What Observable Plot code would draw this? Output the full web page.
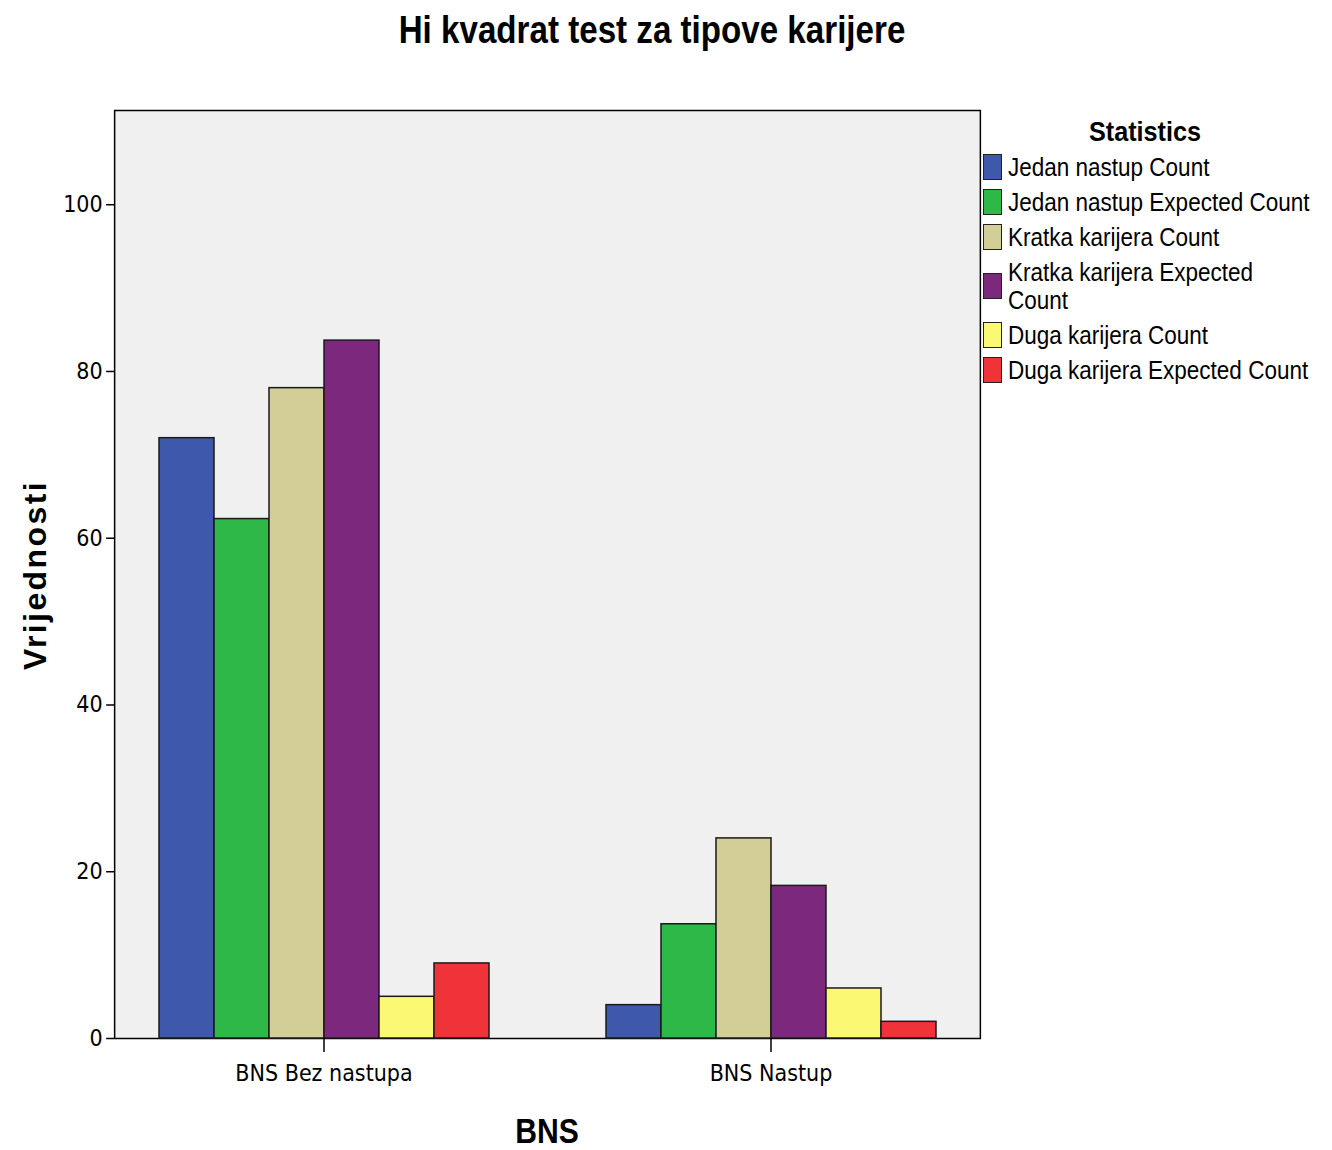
<!DOCTYPE html>
<html>
<head>
<meta charset="utf-8">
<script src="https://cdn.jsdelivr.net/npm/d3@7"></script>
<script src="https://cdn.jsdelivr.net/npm/@observablehq/plot@0.6"></script>
<style>
  body { margin: 0; background: #fff; font-family: "Liberation Sans", Arial, sans-serif; color: #000; }
  #wrap { position: relative; width: 1332px; height: 1150px; overflow: hidden; }
  #title { position: absolute; left: 652px; top: 30px; transform: translate(-50%, -50%) scaleX(0.85); font-size: 39px; line-height: 44px; font-weight: bold; white-space: nowrap; }
  #chart { position: absolute; left: 0; top: 62px; }
  #ylabel { position: absolute; left: 35px; top: 575px; transform: translate(-50%, -50%) rotate(-90deg); font-weight: bold; font-size: 32px; letter-spacing: 2.4px; white-space: nowrap; }
  #xlabel { position: absolute; left: 547px; top: 1131px; transform: translate(-50%, -50%) scaleX(0.86); font-weight: bold; font-size: 35px; line-height: 34px; white-space: nowrap; }
  #legend { position: absolute; left: 983px; top: 116px; width: 348px; }
  #legend .lt { position: absolute; left: 162px; top: 16px; transform: translate(-50%, -50%) scaleX(0.9); font-weight: bold; font-size: 28px; line-height: 32px; white-space: nowrap; }
  #legend .rows { position: absolute; left: 0; top: 37px; }
  #legend .row { display: flex; align-items: center; margin-bottom: 7px; }
  #legend .sw { width: 17px; height: 24px; border: 1.5px solid #222; flex: none; margin-right: 6px; }
  #legend .tx { font-size: 25px; line-height: 28px; width: 340px; transform: scaleX(0.9); transform-origin: left center; }
</style>
</head>
<body>
<div id="wrap">
  <div id="title"></div>
  <div id="chart"></div>
  <div id="ylabel"></div>
  <div id="xlabel"></div>
  <div id="legend"></div>
</div>
<script>
const chartTitle = "Hi kvadrat test za tipove karijere";
const yLabel = "Vrijednosti";
const xLabel = "BNS";
const legendTitle = "Statistics";
const groups = ["BNS Bez nastupa", "BNS Nastup"];
const series = [
  "Jedan nastup Count",
  "Jedan nastup Expected Count",
  "Kratka karijera Count",
  "Kratka karijera Expected Count",
  "Duga karijera Count",
  "Duga karijera Expected Count"
];
const valuesBezNastupa = [72, 62.3, 78, 83.7, 5, 9.0];
const valuesNastup = [4, 13.7, 24, 18.3, 6, 2.0];
const colors = ["#3e58ac", "#2eb848", "#d3ce97", "#7b287d", "#fbf873", "#ef3338"];
const yTicks = [0, 20, 40, 60, 80, 100];

const data = [];
series.forEach((s, i) => {
  data.push({group: groups[0], series: s, value: valuesBezNastupa[i]});
  data.push({group: groups[1], series: s, value: valuesNastup[i]});
});

document.getElementById("title").textContent = chartTitle;
document.getElementById("ylabel").textContent = yLabel;
document.getElementById("xlabel").textContent = xLabel;

const W = 1332, H = 1088, mL = 114, mR = 351, mT = 48, mB = 112;
const fxOpts = {domain: groups, paddingInner: 0.259, paddingOuter: 0.098};
// offset of the first facet from the frame's left edge, taken from Plot's own band scale
const fxProbe = Plot.scale({fx: {...fxOpts, type: "band", range: [mL, W - mR]}});
const axisShift = mL - fxProbe.apply(groups[0]);

const tickFont = '"DejaVu Sans Condensed", "DejaVu Sans", sans-serif';

const chart = Plot.plot({
  width: W,
  height: H,
  marginTop: mT,
  marginBottom: mB,
  marginLeft: mL,
  marginRight: mR,
  style: {
    fontFamily: tickFont,
    fontSize: "23px",
    color: "#000",
    background: "transparent",
    overflow: "visible"
  },
  fx: {...fxOpts, label: null},
  x: {domain: series, padding: 0, axis: null},
  y: {domain: [0, 111.3], label: null},
  color: {domain: series, range: colors},
  marks: [
    Plot.frame({facet: "super", fill: "#f0f0f0", stroke: "#000", strokeWidth: 1.5, insetLeft: axisShift, insetRight: axisShift}),
    Plot.barY(data, {fx: "group", x: "series", y: "value", fill: "series", stroke: "#1a1a1a", strokeWidth: 1.5}),
    Plot.axisY({ticks: yTicks, tickSize: 8, tickPadding: 4, fontSize: 23, label: null, tickFormat: d => d, strokeWidth: 1.5, dx: axisShift}),
    Plot.axisFx({anchor: "bottom", tickSize: 14, tickPadding: 12, fontSize: 23, label: null, strokeWidth: 1.5})
  ]
});
document.getElementById("chart").appendChild(chart);

const legend = document.getElementById("legend");
const lt = document.createElement("div");
lt.className = "lt";
lt.textContent = legendTitle;
legend.appendChild(lt);
const rows = document.createElement("div");
rows.className = "rows";
legend.appendChild(rows);
series.forEach((s, i) => {
  const row = document.createElement("div");
  row.className = "row";
  const sw = document.createElement("div");
  sw.className = "sw";
  sw.style.background = colors[i];
  const tx = document.createElement("div");
  tx.className = "tx";
  tx.textContent = s;
  row.appendChild(sw);
  row.appendChild(tx);
  rows.appendChild(row);
});
</script>
</body>
</html>
